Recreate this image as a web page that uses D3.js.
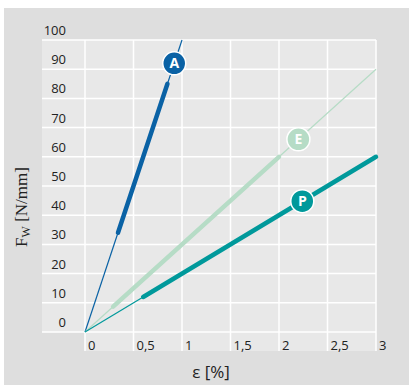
<!DOCTYPE html>
<html>
<head>
<meta charset="utf-8">
<script src="https://cdn.jsdelivr.net/npm/d3@7"></script>
<style>
  body { margin: 0; background: #fff; }
  text { font-family: "Open Sans", "DejaVu Sans", sans-serif; }
</style>
</head>
<body>
<div id="chart"></div>
<script>
// chart data
var xTicks = [0, 0.5, 1, 1.5, 2, 2.5, 3];
var xTickLabels = ["0", "0,5", "1", "1,5", "2", "2,5", "3"];
var yTicks = [0, 10, 20, 30, 40, 50, 60, 70, 80, 90, 100];

var seriesNames = ["A", "E", "P"];
var seriesColors = ["#0a62a5", "#b6dcc6", "#00999b"];
// thin line: [strain, force] start/end
var thinLines = [[[0, 0], [1.0, 100]], [[0, 0], [3, 90]], [[0, 0], [0.6, 12]]];
// thick segment: measured range
var thickLines = [[[0.34, 34], [0.85, 85]], [[0.29, 8.7], [2, 60]], [[0.6, 12], [3, 60]]];
// label position on the line
var labelPoints = [[0.92, 92], [2.2, 66], [2.24, 44.8]];

var svg_width = 413, svg_height = 385;
var svg = d3.select("#chart").append("svg")
    .attr("width", svg_width)
    .attr("height", svg_height);

// outer panel
svg.append("rect")
    .attr("x", 4).attr("y", 8)
    .attr("width", 405).attr("height", 377)
    .attr("fill", "#dedede");

var x = d3.scaleLinear().domain([0, 3]).range([85, 376]);
var y = d3.scaleLinear().domain([0, 100]).range([332, 40]);

// plot area
svg.append("rect")
    .attr("x", 42).attr("y", y(100))
    .attr("width", x(3) - 42).attr("height", y(0) - y(100))
    .attr("fill", "#e8e8e8");
svg.append("rect")
    .attr("x", x(0)).attr("y", y(0))
    .attr("width", x(3) - x(0)).attr("height", 19)
    .attr("fill", "#e8e8e8");

// grid
svg.append("g").selectAll("line")
    .data(yTicks).enter().append("line")
    .attr("x1", 42).attr("x2", x(3))
    .attr("y1", d => y(d)).attr("y2", d => y(d))
    .attr("stroke", "#fff").attr("stroke-width", 1.5);

svg.append("g").selectAll("line")
    .data(xTicks).enter().append("line")
    .attr("x1", d => x(d)).attr("x2", d => x(d))
    .attr("y1", y(100)).attr("y2", y(0) + 19)
    .attr("stroke", "#fff").attr("stroke-width", 1.5);

// tick labels
svg.append("g").selectAll("text")
    .data(yTicks).enter().append("text")
    .attr("x", 66).attr("y", d => y(d) - 5)
    .attr("text-anchor", "end")
    .attr("font-size", 13).attr("fill", "#222")
    .text(d => d);

svg.append("g").selectAll("text")
    .data(xTicks).enter().append("text")
    .attr("x", d => x(d) + 3).attr("y", y(0) + 18)
    .attr("font-size", 13).attr("fill", "#222")
    .text((d, i) => xTickLabels[i]);

// axis titles
svg.append("text")
    .attr("x", 211).attr("y", 378)
    .attr("text-anchor", "middle")
    .attr("font-size", 17).attr("fill", "#222")
    .text("ε [%]");

var yt = svg.append("text")
    .attr("transform", "translate(27,207) rotate(-90)")
    .attr("text-anchor", "middle")
    .style("font-family", "'Liberation Serif', 'DejaVu Serif', serif")
    .attr("font-size", 17).attr("fill", "#222");
yt.append("tspan").text("F");
yt.append("tspan").attr("font-size", 12).attr("dy", 3).text("W");
yt.append("tspan").attr("dy", -3).text(" [N/mm]");

var line = d3.line().x(d => x(d[0])).y(d => y(d[1]));

// thin lines
svg.append("g").selectAll("path")
    .data(thinLines).enter().append("path")
    .attr("d", d => line(d))
    .attr("fill", "none")
    .attr("stroke", (d, i) => seriesColors[i])
    .attr("stroke-width", 1.2);

// thick segments
svg.append("g").selectAll("path")
    .data(thickLines).enter().append("path")
    .attr("d", d => line(d))
    .attr("fill", "none")
    .attr("stroke", (d, i) => seriesColors[i])
    .attr("stroke-width", 4.5)
    .attr("stroke-linecap", "round");

// labels
var labels = svg.append("g").selectAll("g")
    .data(labelPoints).enter().append("g")
    .attr("transform", d => `translate(${x(d[0])},${y(d[1])})`);

labels.append("circle")
    .attr("r", 11.5)
    .attr("fill", (d, i) => seriesColors[i])
    .attr("stroke", "#fff").attr("stroke-width", 1.5);

labels.append("text")
    .attr("text-anchor", "middle")
    .attr("dy", "0.36em")
    .attr("font-size", 14).attr("font-weight", "bold")
    .attr("fill", "#fff")
    .text((d, i) => seriesNames[i]);
</script>
</body>
</html>
